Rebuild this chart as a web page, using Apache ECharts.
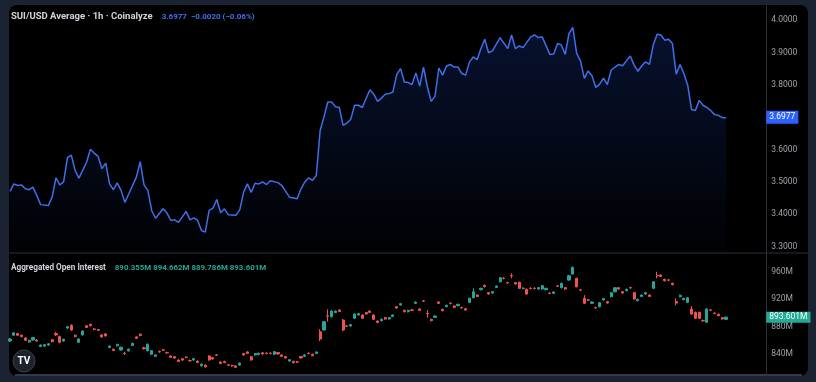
<!DOCTYPE html>
<html><head><meta charset="utf-8">
<script src="https://cdn.jsdelivr.net/npm/echarts@6/dist/echarts.min.js"></script>
<style>html,body{margin:0;padding:0;background:#1b2231;}#c{width:816px;height:382px;}</style>
</head><body><div id="c"></div>
<script>
// ---- Data ----
const hourSlots = 198; // hourly slots on the time axis (last ~10 are empty future space)
const priceHours = [0,1,2,3,4,5,6,7,8,10,11,12,13,14,15,16,17,18,20,21,22,23,24,25,26,27,28,29,30,31,33,34,35,36,37,38,40,41,42,43,44,46,47,48,49,50,51,52,53,54,55,56,57,59,60,61,62,63,64,65,66,67,68,70,71,72,73,75,76,77,78,79,80,81,82,83,84,85,86,87,88,89,90,91,92,93,94,95,96,97,98,99,100,101,102,103,104,105,106,107,108,109,110,111,112,113,114,115,116,117,118,119,120,121,122,123,124,125,126,128,130,131,132,133,134,136,137,138,139,141,142,143,144,145,146,147,148,149,150,151,152,153,154,155,156,157,158,159,160,161,162,163,164,165,166,167,168,169,170,171,172,173,174,175,176,177,178,179,180,181,182,183,184,185,186,187];
const priceValues = [3.471,3.494,3.489,3.491,3.479,3.476,3.484,3.458,3.430,3.427,3.453,3.513,3.491,3.500,3.575,3.583,3.536,3.512,3.561,3.601,3.589,3.579,3.541,3.558,3.494,3.476,3.497,3.474,3.437,3.463,3.515,3.563,3.491,3.474,3.412,3.388,3.417,3.404,3.381,3.383,3.375,3.409,3.383,3.389,3.381,3.350,3.345,3.412,3.419,3.446,3.405,3.417,3.399,3.397,3.414,3.468,3.494,3.468,3.496,3.494,3.500,3.492,3.504,3.498,3.489,3.471,3.453,3.448,3.479,3.500,3.513,3.505,3.520,3.659,3.701,3.747,3.747,3.732,3.730,3.675,3.682,3.694,3.737,3.737,3.730,3.758,3.785,3.771,3.749,3.759,3.771,3.773,3.778,3.832,3.850,3.809,3.807,3.801,3.837,3.796,3.855,3.794,3.749,3.765,3.852,3.830,3.858,3.863,3.855,3.855,3.835,3.830,3.871,3.886,3.878,3.912,3.941,3.899,3.905,3.946,3.912,3.954,3.912,3.920,3.915,3.948,3.954,3.946,3.948,3.894,3.895,3.928,3.923,3.894,3.959,3.977,3.897,3.874,3.820,3.843,3.828,3.792,3.802,3.821,3.801,3.845,3.855,3.863,3.859,3.874,3.889,3.861,3.842,3.859,3.871,3.863,3.923,3.956,3.954,3.938,3.941,3.928,3.833,3.863,3.835,3.799,3.724,3.721,3.752,3.737,3.730,3.721,3.708,3.706,3.699,3.6977];
// 3.7000 is hidden in the reference (covered by the last-price tag)
const priceTicks = [3.3,3.4,3.5,3.6,3.8,3.9,4.0];

const oiOpen  = [858.5,867.0,869.5,867.0,863.0,857.0,860.0,860.0,850.5,851.0,852.5,860.5,869.5,865.0,858.5,877.5,881.6,867.0,856.6,867.4,881.0,883.0,876.3,875.3,867.5,869.0,849.0,846.5,851.5,845.3,840.6,844.0,852.0,864.5,868.5,848.5,844.3,839.0,836.0,843.2,845.5,841.5,836.5,835.5,830.5,832.5,834.8,829.8,830.5,829.0,822.0,823.0,836.5,834.0,838.1,827.5,828.5,823.4,822.4,821.8,823.2,840.0,842.5,835.4,838.0,838.5,841.2,840.6,840.6,839.0,841.5,838.0,835.6,829.0,828.6,827.8,835.6,836.0,840.6,839.0,840.3,872.2,874.7,895.5,894.3,900.5,904.0,889.4,880.8,880.6,891.9,896.8,896.8,900.3,902.6,896.8,887.9,888.4,892.9,890.9,894.7,909.1,911.5,903.6,901.6,904.3,913.9,905.6,917.6,899.2,890.4,893.3,915.9,905.1,909.0,914.2,910.0,910.5,907.7,906.1,915.4,922.2,926.1,934.0,940.4,929.7,929.1,937.4,945.7,950.9,944.5,954.8,944.4,944.9,935.8,934.6,936.2,936.2,935.0,935.0,934.0,928.9,928.6,939.6,936.9,937.0,948.2,957.1,950.7,933.7,921.3,919.0,913.9,907.7,909.0,918.9,916.4,923.7,931.0,937.0,931.1,932.5,937.1,929.6,917.8,924.1,927.7,926.1,936.0,954.8,955.6,949.2,948.4,943.4,916.4,923.7,919.3,915.4,905.6,900.7,900.7,888.6,886.0,904.3,899.5,897.8,892.9,890.355];
const oiClose = [861.5,870.5,867.0,865.0,859.5,859.5,863.5,858.5,852.5,853.0,854.5,857.5,867.5,856.6,861.0,879.5,874.7,865.0,861.5,873.2,878.5,881.0,875.5,874.3,864.5,866.0,851.0,844.5,853.5,849.3,840.2,846.5,855.0,862.5,866.5,847.3,853.7,844.3,838.0,842.5,845.1,841.1,834.5,833.5,828.5,830.5,834.4,829.4,832.5,827.0,824.5,820.5,830.6,832.0,837.7,825.5,826.8,823.0,822.0,819.8,826.0,838.0,840.3,830.6,840.0,840.5,839.5,840.2,840.2,842.8,839.5,836.0,833.6,831.0,826.6,827.4,833.6,838.0,840.2,837.0,842.3,861.5,886.9,895.1,902.6,902.5,902.0,874.7,880.4,882.6,898.2,898.8,891.9,898.3,900.6,890.4,885.9,890.4,890.9,892.9,896.7,907.1,913.5,901.6,903.6,903.9,915.9,903.6,917.2,898.8,888.4,895.3,913.9,903.1,911.0,913.8,908.0,912.5,907.3,904.1,921.3,931.0,924.1,936.0,938.4,927.7,931.1,939.4,951.6,950.5,944.1,954.4,942.4,936.0,936.2,927.6,935.8,935.8,937.0,939.9,936.0,928.5,930.6,939.2,943.4,935.0,954.6,966.9,938.4,933.3,914.0,918.6,915.9,907.3,914.9,920.9,914.4,929.6,936.9,935.0,929.1,934.5,936.7,920.3,919.8,926.1,929.7,924.1,945.7,954.4,953.6,947.2,948.0,941.4,914.4,925.7,921.3,922.2,898.2,891.9,891.9,888.2,905.6,903.9,899.1,895.8,890.9,893.601];
const oiLow   = [857.0,866.0,866.0,864.0,858.5,856.0,859.0,857.5,849.5,850.0,851.5,856.5,866.0,855.0,857.5,876.5,873.5,864.0,855.5,866.5,877.5,880.0,874.5,873.3,863.5,865.0,848.0,843.5,850.5,844.3,838.0,843.0,851.0,861.5,865.5,846.0,843.3,838.0,835.0,841.2,843.8,839.8,833.5,832.5,827.5,829.5,833.1,828.1,829.5,826.0,821.0,819.5,829.6,831.0,836.4,824.5,825.8,821.7,820.7,818.8,822.2,837.0,839.3,829.6,837.0,837.5,838.5,838.9,838.9,838.0,838.5,835.0,832.6,828.0,825.6,826.1,832.6,835.0,838.9,836.0,839.3,858.5,873.7,887.0,893.3,899.5,901.0,873.0,879.1,879.6,890.9,895.8,890.9,897.3,899.6,889.4,884.9,887.4,889.9,889.9,893.7,906.1,910.5,900.6,900.6,902.6,912.9,902.6,915.9,892.8,887.4,892.3,912.9,902.1,908.0,912.5,907.0,909.5,906.0,903.1,914.4,921.2,923.1,933.0,937.4,926.7,928.1,936.4,944.7,949.2,942.8,950.7,941.4,935.0,934.5,926.6,934.5,934.5,934.0,934.0,933.0,927.2,927.6,937.9,935.9,934.0,947.2,956.1,937.4,932.0,913.0,917.3,912.9,906.0,908.0,917.9,913.4,922.7,930.0,934.0,928.1,931.5,935.4,919.3,916.8,923.1,926.7,923.1,935.0,950.7,952.6,946.2,946.7,940.4,911.0,922.7,918.3,914.4,897.2,890.9,890.9,886.9,885.0,902.6,897.8,894.8,889.9,889.786];
const oiHigh  = [863.0,871.5,870.5,868.0,864.0,860.5,864.5,861.0,853.5,854.0,855.5,861.5,872.0,866.5,862.0,880.5,883.0,868.0,862.5,874.0,882.0,884.0,877.5,876.3,868.5,870.0,852.0,847.5,854.5,850.3,842.5,847.5,856.0,865.5,869.5,850.0,855.0,845.3,839.0,844.5,846.8,842.8,837.5,836.5,831.5,833.5,836.1,831.1,833.5,830.0,825.5,824.0,837.5,835.0,839.4,828.5,829.5,824.7,823.7,822.8,827.0,841.0,843.5,836.4,841.0,841.5,842.2,841.9,841.9,843.8,842.5,839.0,836.6,832.0,829.6,829.1,836.6,839.0,841.9,840.0,843.3,876.0,888.0,905.0,903.6,903.5,905.0,891.0,882.1,883.6,899.2,899.8,897.8,901.3,903.6,897.8,888.9,891.4,893.9,893.9,897.7,910.1,914.5,904.6,904.6,905.6,916.9,906.6,918.9,904.0,891.4,896.3,916.9,906.1,912.0,915.5,911.0,913.5,909.0,907.1,922.3,936.0,927.1,937.0,941.4,930.7,932.1,940.4,952.6,952.2,945.8,958.0,945.4,945.9,937.5,935.6,937.5,937.5,938.0,940.9,937.0,930.2,931.6,940.9,944.4,938.0,955.6,968.0,951.7,935.0,926.0,920.3,916.9,909.0,915.9,921.9,917.4,930.6,937.9,938.0,932.1,935.5,938.4,930.6,920.8,927.1,930.7,927.1,946.7,960.4,956.6,950.2,949.7,944.4,921.3,926.7,922.3,923.2,910.0,901.7,901.7,889.9,906.6,905.6,900.8,898.8,893.9,894.662];
const oiTicks = [840,880,920,960];

// ---- Chart ----
const FONT = 'Roboto, "Noto Sans", sans-serif';
const hourCats = Array.from({length: hourSlots}, (_, i) => String(i));
const lastIdx = priceValues.length - 1;
const priceData = priceHours.map((h, i) => i === lastIdx
  ? {value: [h, priceValues[i]], symbol: 'circle', symbolSize: 5, itemStyle: {color: '#3f6fea', borderWidth: 0}}
  : [h, priceValues[i]]);
const candleData = oiOpen.map((o, i) => [o, oiClose[i], oiLow[i], oiHigh[i]]);
const lastPrice = priceValues[lastIdx];
const lastOi = oiClose[oiClose.length - 1];
const fmtM = v => v.toFixed(3) + 'M';

const chart = echarts.init(document.getElementById('c'), null, {renderer: 'canvas'});
chart.setOption({
  backgroundColor: 'transparent',
  animation: false,
  textStyle: {fontFamily: FONT},
  graphic: [
    {type: 'rect', z: -10, shape: {x: 9, y: 5, width: 799, height: 371, r: 8}, style: {fill: '#000000'}},
    {type: 'rect', z: -9, shape: {x: 15, y: 374, width: 787, height: 2}, style: {fill: '#363a45'}},
    {type: 'line', z: 1, shape: {x1: 9, y1: 253, x2: 808, y2: 253}, style: {stroke: '#2a2e39', lineWidth: 1}},
    {type: 'circle', z: 20, shape: {cx: 24, cy: 361, r: 11}, style: {fill: '#1e222d', stroke: '#3d414c', lineWidth: 1}},
    {type: 'text', z: 21, x: 24, y: 361, style: {text: 'TV', fill: '#ffffff', font: 'bold 10px ' + FONT, align: 'center', verticalAlign: 'middle'}}
  ],
  title: [
    {left: 11, top: 8, padding: 0, text: '{a|SUI/USD Average · 1h · Coinalyze}  {b|' + lastPrice.toFixed(4) + '  −0.0020 (−0.06%)}',
      textStyle: {rich: {a: {color: '#d1d4dc', fontSize: 9.5, fontFamily: FONT}, b: {color: '#3f6fea', fontSize: 8, fontFamily: FONT}}}},
    {left: 11, top: 259, padding: 0, text: '{a|Aggregated Open Interest}  {b|890.355M 894.662M 889.786M ' + fmtM(lastOi) + '}',
      textStyle: {rich: {a: {color: '#d1d4dc', fontSize: 8.2, fontFamily: FONT}, b: {color: '#26a69a', fontSize: 7.9, fontFamily: FONT}}}}
  ],
  grid: [
    {left: 8.1, right: 49.8, top: 5, height: 248},
    {left: 8.1, right: 49.8, top: 253, height: 122}
  ],
  xAxis: [
    {type: 'category', gridIndex: 0, data: hourCats, boundaryGap: true, show: false},
    {type: 'category', gridIndex: 1, data: hourCats, boundaryGap: true, show: false}
  ],
  yAxis: [
    {type: 'value', gridIndex: 0, position: 'right', min: 3.2806, max: 4.0466,
      axisLine: {show: true, lineStyle: {color: '#2a2e39'}}, axisTick: {show: false}, splitLine: {show: false},
      axisLabel: {customValues: priceTicks, formatter: v => v.toFixed(4), color: '#9fa2ab', fontSize: 8.5, margin: 5, fontFamily: FONT}},
    {type: 'value', gridIndex: 1, position: 'right', min: 808.5, max: 988,
      axisLine: {show: true, lineStyle: {color: '#2a2e39'}}, axisTick: {show: false}, splitLine: {show: false},
      axisLabel: {customValues: oiTicks, formatter: v => v + 'M', color: '#9fa2ab', fontSize: 8.5, margin: 5, fontFamily: FONT, hideOverlap: false}}
  ],
  series: [
    {type: 'line', xAxisIndex: 0, yAxisIndex: 0, data: priceData, symbol: 'none', showSymbol: true,
      lineStyle: {color: '#3f6fea', width: 1.5}, itemStyle: {color: '#3f6fea'},
      areaStyle: {origin: 'start', color: new echarts.graphic.LinearGradient(0, 0, 0, 1, [
        {offset: 0, color: 'rgba(41,98,255,0.26)'}, {offset: 1, color: 'rgba(41,98,255,0.02)'}])},
      markLine: {silent: true, symbol: 'none', animation: false,
        lineStyle: {color: 'rgba(0,0,0,0)', width: 0, type: 'solid'},
        label: {show: true, position: 'end', distance: 0, formatter: () => lastPrice.toFixed(4),
          backgroundColor: '#2962ff', color: '#ffffff', fontSize: 8.5, fontFamily: FONT, padding: [2, 3, 2, 3]},
        data: [{yAxis: lastPrice}]}
    },
    {type: 'candlestick', xAxisIndex: 1, yAxisIndex: 1, data: candleData, barWidth: 2.6,
      itemStyle: {color: '#26a69a', color0: '#ef5350', borderColor: '#26a69a', borderColor0: '#ef5350', borderWidth: 1},
      markLine: {silent: true, symbol: 'none', animation: false,
        lineStyle: {color: 'rgba(0,0,0,0)', width: 0, type: 'solid'},
        label: {show: true, position: 'end', distance: 0, formatter: () => fmtM(lastOi),
          backgroundColor: '#22ab94', color: '#ffffff', fontSize: 8.5, fontFamily: FONT, padding: [1, 3, 1, 3]},
        data: [{yAxis: lastOi}]}
    }
  ]
});
</script></body></html>
